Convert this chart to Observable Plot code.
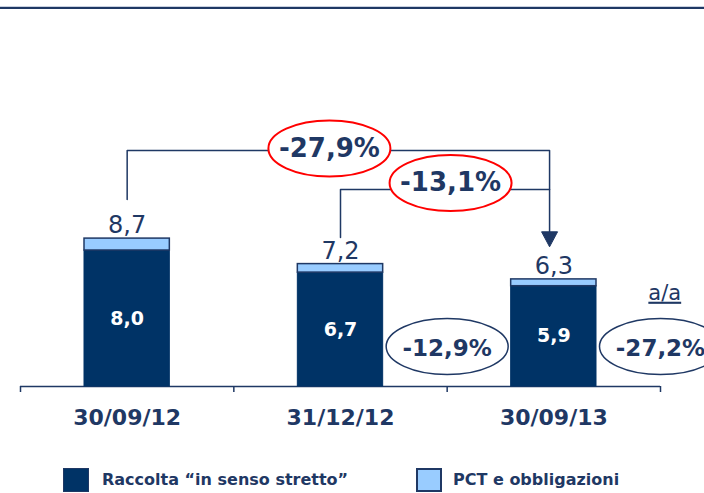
<!DOCTYPE html>
<html><head><meta charset="utf-8">
<script src="https://cdn.jsdelivr.net/npm/d3@7"></script>
<script src="https://cdn.jsdelivr.net/npm/@observablehq/plot@0.6"></script>
<style>
body{margin:0;background:#fff;font-family:"DejaVu Sans",Verdana,sans-serif;}
#wrap{position:relative;width:704px;height:493px;overflow:hidden;}
#chart{position:absolute;left:0;top:0;}
#topline{position:absolute;left:0;top:6px;width:704px;height:1px;background:#c9d1e0;border-bottom:2px solid #1f3864;}
.lg-sw{position:absolute;top:468px;width:24px;height:22px;border:1px solid #1f3864;}
.lg-tx{position:absolute;top:470px;font-weight:bold;font-size:16px;color:#1f3864;line-height:20px;white-space:nowrap;}
</style></head><body>
<div id="wrap"><div id="chart"></div><div id="topline"></div><div id="legend"></div></div>
<script>
// ---- data ----
const categories = ["30/09/12", "31/12/12", "30/09/13"];
const core = [8.0, 6.7, 5.9];          // Raccolta "in senso stretto"
const pct = [0.7, 0.5, 0.4];           // PCT e obbligazioni
const coreLabels = ["8,0", "6,7", "5,9"];
const totalLabels = ["8,7", "7,2", "6,3"];
const yoyLabels = ["", "-12,9%", "-27,2%"];
const growthLabels = ["-27,9%", "-13,1%"];   // from 30/09/12 and 31/12/12 to 30/09/13
const seriesNames = ["Raccolta \u201cin senso stretto\u201d", "PCT e obbligazioni"];
const yoyHeader = "a/a";

// ---- styles ----
const DARK = "#003366", LIGHT = "#99ccff", NAVY = "#1f3864", RED = "#ff0000";

const rows = categories.map((c, i) => ({i, cat: c, core: core[i], pct: pct[i], total: core[i] + pct[i]}));
const yoyRows = rows.filter(d => yoyLabels[d.i] !== "");

function ellipse(rx, ry) {
  const k = 0.5523;
  return {draw(ctx) {
    ctx.moveTo(rx, 0);
    ctx.bezierCurveTo(rx, ry * k, rx * k, ry, 0, ry);
    ctx.bezierCurveTo(-rx * k, ry, -rx, ry * k, -rx, 0);
    ctx.bezierCurveTo(-rx, -ry * k, -rx * k, -ry, 0, -ry);
    ctx.bezierCurveTo(rx * k, -ry, rx, -ry * k, rx, 0);
    ctx.closePath();
  }};
}
const arrowHead = {draw(ctx) { ctx.moveTo(-8, 0); ctx.lineTo(8, 0); ctx.lineTo(0, 15); ctx.closePath(); }};

const target = 2.48;
const growth = [
  {from: 0, level: 13.88, start: 11.0, ex: 1.448, ey: 14.0},
  {from: 1, level: 11.59, start: 8.76, ex: 2.016, ey: 11.97}
];
const bracket = [
  {k: 0, x: 0.5, y: 11.0}, {k: 0, x: 0.5, y: 13.88}, {k: 0, x: target, y: 13.88}, {k: 0, x: target, y: 9.1},
  {k: 1, x: 1.5, y: 8.76}, {k: 1, x: 1.5, y: 11.59}, {k: 1, x: target, y: 11.59}
];

const H = 460, BASE = 386, PXU = 17;
const chart = Plot.plot({
  width: 704, height: H,
  marginLeft: 20, marginRight: 44, marginTop: 0, marginBottom: H - BASE,
  style: {fontFamily: "'DejaVu Sans', Verdana, sans-serif", color: NAVY, background: "transparent", overflow: "visible"},
  x: {type: "linear", domain: [0, 3], axis: null},
  y: {domain: [0, BASE / PXU], axis: null},
  marks: [
    Plot.axisX({ticks: [0, 1, 2, 3], tickSize: 6, tickFormat: () => "", label: null, stroke: NAVY, strokeWidth: 1.5}),
    Plot.ruleY([0], {stroke: NAVY, strokeWidth: 1.5}),
    Plot.rect(rows, {x1: d => d.i + 0.3, x2: d => d.i + 0.7, y1: 0, y2: d => d.core, fill: DARK, stroke: DARK, strokeWidth: 1}),
    Plot.rect(rows, {x1: d => d.i + 0.3, x2: d => d.i + 0.7, y1: d => d.core, y2: d => d.total, fill: LIGHT, stroke: NAVY, strokeWidth: 1.5}),
    Plot.text(rows, {x: d => d.i + 0.5, y: d => d.core / 2, text: d => coreLabels[d.i], fill: "white", fontWeight: "bold", fontSize: 19}),
    Plot.text(rows, {x: d => d.i + 0.5, y: d => d.total, text: d => totalLabels[d.i], fill: NAVY, fontSize: 24, dy: -13}),
    Plot.text(rows, {x: d => d.i + 0.5, y: 0, text: d => categories[d.i], fill: NAVY, fontWeight: "bold", fontSize: 22, dy: 31}),
    // brackets + arrow
    Plot.line(bracket, {x: "x", y: "y", z: "k", stroke: NAVY, strokeWidth: 1.5, curve: "linear"}),
    Plot.dot([0], {x: () => target, y: () => 9.1, r: 1, symbol: arrowHead, fill: NAVY, stroke: NAVY, strokeWidth: 1}),
    // growth ellipses
    Plot.dot(growth, {x: "ex", y: "ey", r: 1, symbol: ellipse(61, 28), fill: "white", stroke: RED, strokeWidth: 2}),
    Plot.text(growth, {x: "ex", y: "ey", text: (d, i) => growthLabels[i], fill: NAVY, fontWeight: "bold", fontSize: 26}),
    // year-on-year ellipses
    Plot.dot(yoyRows, {x: d => d.i + 1, y: 2.35, r: 1, symbol: ellipse(61, 28), fill: "white", stroke: NAVY, strokeWidth: 1.5}),
    Plot.text(yoyRows, {x: d => d.i + 1, y: 2.2, text: d => yoyLabels[d.i], fill: NAVY, fontWeight: "bold", fontSize: 23}),
    Plot.text([yoyHeader], {x: 3.02, y: 5.5, text: d => d, fill: NAVY, fontSize: 21})
  ]
});
d3.select(chart).selectAll("text").filter(function() { return this.textContent === yoyHeader; })
  .attr("text-decoration", "underline");
document.getElementById("chart").appendChild(chart);

// legend
const lg = d3.select("#legend");
const lgPos = [{sw: 63, tx: 102}, {sw: 416, tx: 453}];
const lgFill = [DARK, LIGHT];
seriesNames.forEach((name, i) => {
  lg.append("div").attr("class", "lg-sw").style("left", lgPos[i].sw + "px").style("background", lgFill[i])
    .style("border-width", i ? "2px" : "1px").style("width", i ? "22px" : "24px").style("height", i ? "20px" : "22px");
  lg.append("div").attr("class", "lg-tx").style("left", lgPos[i].tx + "px").text(name);
});
</script>
</body></html>
